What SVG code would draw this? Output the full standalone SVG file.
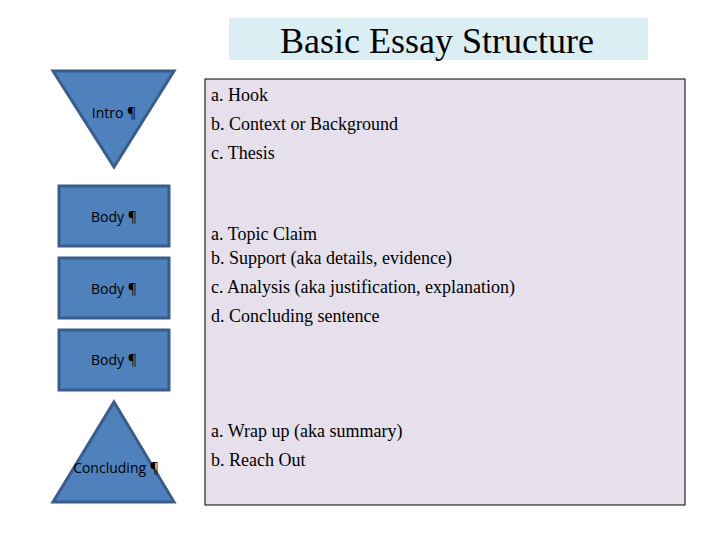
<svg xmlns="http://www.w3.org/2000/svg" width="720" height="540" viewBox="0 0 720 540">
<style>
.s{fill:#4f81bd;stroke:#385d8a;stroke-width:3}
.l{font-family:"Open Sans","Liberation Sans",sans-serif;font-size:14px;fill:#000;text-anchor:middle}
.t{font-family:"Liberation Serif",serif;font-size:18px;fill:#000}
</style>
<rect width="720" height="540" fill="#fff"/>
<rect x="229" y="18" width="419" height="42" fill="#dbeef4"/>
<text x="437" y="53" font-family="Liberation Serif,serif" font-size="36" text-anchor="middle">Basic Essay Structure</text>
<g id="content"><rect x="205" y="79" width="480" height="426" fill="#e5e0ec" stroke="#000" stroke-width="1"/>
<text class="t" x="211" y="101">a. Hook</text>
<text class="t" x="211" y="130">b. Context or Background</text>
<text class="t" x="211" y="159">c. Thesis</text>
<text class="t" x="211" y="240">a. Topic Claim</text>
<text class="t" x="211" y="264">b. Support (aka details, evidence)</text>
<text class="t" x="211" y="293">c. Analysis (aka justification, explanation)</text>
<text class="t" x="211" y="322">d. Concluding sentence</text>
<text class="t" x="211" y="437">a. Wrap up (aka summary)</text>
<text class="t" x="211" y="466">b. Reach Out</text></g>
<g id="connectors"></g>
<g id="intro"><polygon class="s" points="53,71 174,71 114,167"/><text class="l" x="114" y="118">Intro ¶</text></g>
<g id="body1"><rect class="s" x="59" y="186" width="110" height="60"/><text class="l" x="114" y="222">Body ¶</text></g>
<g id="body2"><rect class="s" x="59" y="258" width="110" height="60"/><text class="l" x="114" y="294">Body ¶</text></g>
<g id="body3"><rect class="s" x="59" y="330" width="110" height="60"/><text class="l" x="114" y="365">Body ¶</text></g>
<g id="concluding"><polygon class="s" points="114,402 174,502 53,502"/><text class="l" x="116" y="473">Concluding ¶</text></g>
</svg>
